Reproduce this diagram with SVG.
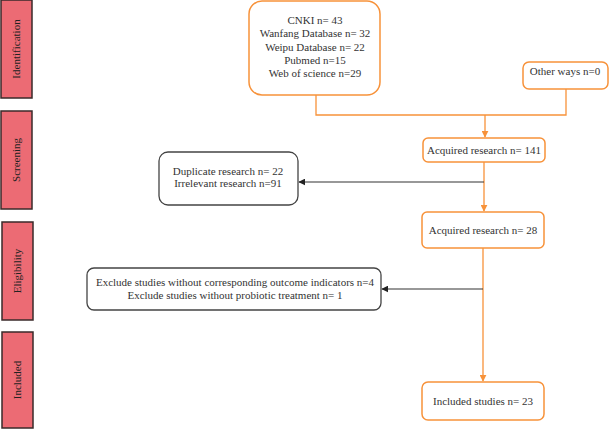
<svg xmlns="http://www.w3.org/2000/svg" width="610" height="431" viewBox="0 0 610 431">
<style>
.phase{fill:#ec6b74;stroke:#3a2a2a;stroke-width:1.5}
.ptxt{font-family:"Liberation Serif",serif;font-size:11px;fill:#222;text-anchor:middle}
.ob{fill:#fff;stroke:#f7923a;stroke-width:1.5}
.bb{fill:#fff;stroke:#444;stroke-width:1.3}
.t{font-family:"Liberation Serif",serif;font-size:11px;fill:#333;text-anchor:middle}
.ol{fill:none;stroke:#f7923a;stroke-width:1.3}
.bl{fill:none;stroke:#333;stroke-width:1.1}
</style>
<defs>
<marker id="ao" viewBox="0 0 10 10" refX="9" refY="5" markerWidth="7" markerHeight="7" markerUnits="userSpaceOnUse" orient="auto"><path d="M0,0L10,5L0,10z" fill="#f7923a"/></marker>
<marker id="ab" viewBox="0 0 10 10" refX="9" refY="5" markerWidth="7" markerHeight="7" markerUnits="userSpaceOnUse" orient="auto"><path d="M0,0L10,5L0,10z" fill="#222"/></marker>
</defs>
<g id="phase-identification"><rect class="phase" x="1" y="0" width="31" height="98"/><text class="ptxt" transform="translate(20,49) rotate(-90)">Identification</text></g>
<g id="phase-screening"><rect class="phase" x="1" y="111" width="31" height="98"/><text class="ptxt" transform="translate(20,160) rotate(-90)">Screening</text></g>
<g id="phase-eligibility"><rect class="phase" x="2" y="222" width="31" height="98"/><text class="ptxt" transform="translate(21,271) rotate(-90)">Eligibility</text></g>
<g id="phase-included"><rect class="phase" x="2" y="332" width="31" height="96"/><text class="ptxt" transform="translate(21,380) rotate(-90)">Included</text></g>

<g id="connectors">
<path class="ol" d="M316,95V115H566V89"/>
<path class="ol" d="M485,115V137" marker-end="url(#ao)"/>
<path class="ol" d="M484,162V211" marker-end="url(#ao)"/>
<path class="bl" d="M484,182H299" marker-end="url(#ab)"/>
<path class="ol" d="M483,248V381" marker-end="url(#ao)"/>
<path class="bl" d="M483,289H382" marker-end="url(#ab)"/>
</g>

<g id="databases"><rect class="ob" x="249" y="1" width="131" height="94" rx="13"/>
<text class="t" x="315" y="24">CNKI n= 43</text>
<text class="t" x="315" y="37">Wanfang Database n= 32</text>
<text class="t" x="315" y="51">Weipu Database n= 22</text>
<text class="t" x="315" y="64">Pubmed n=15</text>
<text class="t" x="315" y="77">Web of science n=29</text></g>
<g id="other-ways"><rect class="ob" x="523" y="62" width="85" height="27" rx="6"/><text class="t" x="565" y="75">Other ways n=0</text></g>
<g id="acquired-141"><rect class="ob" x="423" y="138" width="122" height="24" rx="5"/><text class="t" x="484" y="154">Acquired research n= 141</text></g>
<g id="duplicate"><rect class="bb" x="159" y="152" width="139" height="53" rx="9"/>
<text class="t" x="228" y="175">Duplicate research n= 22</text>
<text class="t" x="228" y="187">Irrelevant research n=91</text></g>
<g id="acquired-28"><rect class="ob" x="422" y="212" width="122" height="36" rx="5"/><text class="t" x="483" y="234">Acquired research n= 28</text></g>
<g id="exclude"><rect class="bb" x="87" y="268" width="294" height="42" rx="7"/>
<text class="t" x="235" y="286">Exclude studies without corresponding outcome indicators n=4</text>
<text class="t" x="235" y="299">Exclude studies without probiotic treatment n= 1</text></g>
<g id="included"><rect class="ob" x="422" y="382" width="122" height="38" rx="6"/><text class="t" x="483" y="405">Included studies n= 23</text></g>
</svg>
